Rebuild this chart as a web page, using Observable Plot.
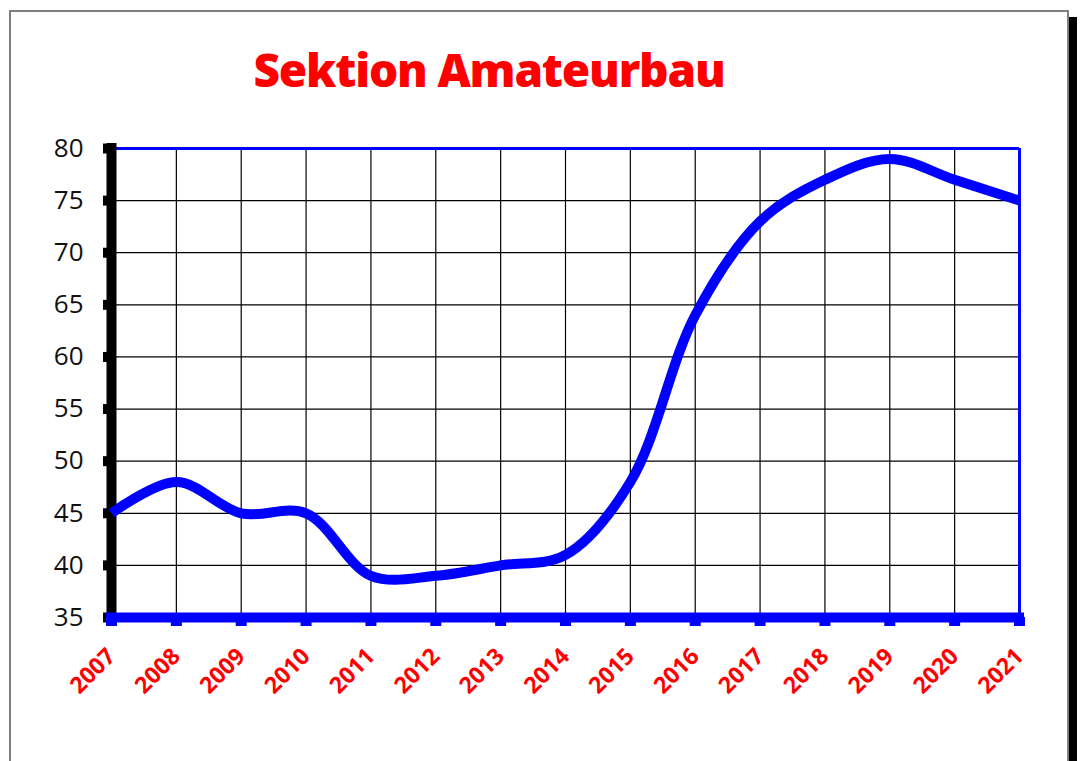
<!DOCTYPE html>
<html>
<head>
<meta charset="utf-8">
<script src="https://cdn.jsdelivr.net/npm/d3@7"></script>
<script src="https://cdn.jsdelivr.net/npm/@observablehq/plot@0.6"></script>
<style>
  html, body { margin: 0; padding: 0; background: #fff; }
  #wrap { position: relative; width: 1086px; height: 761px; overflow: hidden; background: #fff; }
  #frame { position: absolute; left: 9px; top: 10px; width: 1056px; height: 800px;
           border: 2px solid #7f7f7f; box-shadow: 8px 7px 0 #000; background: #fff; }
  #title { position: absolute; left: 0; width: 978px; top: 39px; text-align: center;
           font-family: "Open Sans", sans-serif; font-weight: 800; font-size: 46px;
           color: #ff0000; letter-spacing: -1.2px; line-height: 60px; }
  #chart { position: absolute; left: 0; top: 120px; }
</style>
</head>
<body>
<div id="wrap">
  <div id="frame"></div>
  <div id="title">Sektion Amateurbau</div>
  <div id="chart"></div>
</div>
<script>
const years = [2007, 2008, 2009, 2010, 2011, 2012, 2013, 2014, 2015, 2016, 2017, 2018, 2019, 2020, 2021];
const values = [45, 48, 45, 45, 39, 39, 40, 41, 48, 64, 73, 77, 79, 77, 75];
const yTicks = [35, 40, 45, 50, 55, 60, 65, 70, 75, 80];

const data = years.map((year, i) => ({year, value: values[i]}));

const chart = Plot.plot({
  width: 1086,
  height: 641,
  marginLeft: 111,
  marginRight: 67,
  marginTop: 28,
  marginBottom: 144,
  style: {background: "transparent", overflow: "visible"},
  x: {domain: [2007, 2021]},
  y: {domain: [35, 80]},
  marks: [
    Plot.ruleX(years.slice(1, -1), {y1: 35, y2: 80, stroke: "#000", strokeWidth: 1.2}),
    Plot.ruleY(yTicks.slice(1, -1), {x1: 2007, x2: 2021, stroke: "#000", strokeWidth: 1.2}),
    Plot.ruleY([80], {x1: 2007, x2: 2021, stroke: "#0000ff", strokeWidth: 3}),
    Plot.ruleX([2021], {y1: 35, y2: 80, stroke: "#0000ff", strokeWidth: 3}),
    Plot.axisY({ticks: yTicks, tickSize: 8, tickPadding: 20, stroke: "#000", strokeWidth: 10,
                fontSize: 26, fontFamily: "Open Sans", fill: "#111", label: null}),
    Plot.ruleX([2007], {y1: 35, y2: 80, stroke: "#000", strokeWidth: 10, strokeLinecap: "square"}),
    Plot.axisX({ticks: years, tickFormat: d => String(d), tickSize: 9, tickPadding: 26,
                tickRotate: -45, stroke: "#0000ff", strokeWidth: 11,
                fontSize: 23, fontWeight: 700, fontFamily: "Open Sans", fill: "#ff0000", label: null}),
    Plot.ruleY([35], {x1: 2007, x2: 2021, stroke: "#0000ff", strokeWidth: 10, strokeLinecap: "square"}),
    Plot.lineY(data, {x: "year", y: "value", curve: "catmull-rom", stroke: "#0000ff",
                      strokeWidth: 10, strokeLinecap: "butt"})
  ]
});
document.getElementById("chart").appendChild(chart);
</script>
</body>
</html>
